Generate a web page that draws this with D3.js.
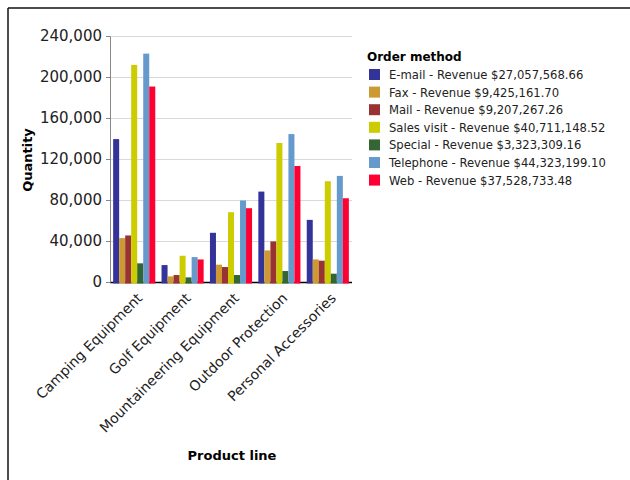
<!DOCTYPE html>
<html>
<head>
<meta charset="utf-8">
<script src="https://cdn.jsdelivr.net/npm/d3@7"></script>
<style>
  html, body { margin: 0; padding: 0; background: #fff; }
  svg { display: block; font-family: "DejaVu Sans", Verdana, sans-serif; }
</style>
</head>
<body>
<svg id="chart" width="630" height="480"></svg>
<script>
// Product lines along the x axis
const categories = ["Camping Equipment", "Golf Equipment", "Mountaineering Equipment", "Outdoor Protection", "Personal Accessories"];

// Order methods (series) and their legend labels
const methods = ["E-mail", "Fax", "Mail", "Sales visit", "Special", "Telephone", "Web"];
const revenues = ["$27,057,568.66", "$9,425,161.70", "$9,207,267.26", "$40,711,148.52", "$3,323,309.16", "$44,323,199.10", "$37,528,733.48"];
const colors = ["#333399", "#cc9933", "#993333", "#cccc00", "#336633", "#6699cc", "#ff0033"];

// Quantity per method, one value per product line
const emailQty     = [139400, 16500, 48000, 88200, 60600];
const faxQty       = [42800, 5500, 16900, 30800, 22000];
const mailQty      = [45400, 6800, 14600, 39600, 20800];
const salesQty     = [211800, 25600, 68100, 135600, 98300];
const specialQty   = [18200, 4500, 6800, 10700, 8100];
const telephoneQty = [222800, 24300, 79500, 144300, 103500];
const webQty       = [190700, 22000, 72000, 113200, 81700];
const seriesValues = [emailQty, faxQty, mailQty, salesQty, specialQty, telephoneQty, webQty];

// Y axis ticks
const yTicks = [0, 40000, 80000, 120000, 160000, 200000, 240000];

const svg = d3.select("#chart");

// Frame lines along the top and left edges
svg.append("line").attr("x1", 8).attr("y1", 8).attr("x2", 630).attr("y2", 8)
  .attr("stroke", "#111").attr("stroke-width", 1.5);
svg.append("line").attr("x1", 8).attr("y1", 8).attr("x2", 8).attr("y2", 480)
  .attr("stroke", "#111").attr("stroke-width", 1.5);

const plot = { left: 110, right: 352, top: 36, bottom: 282 };

const x = d3.scaleBand().domain(categories)
  .range([plot.left, plot.right]).paddingInner(0.13).paddingOuter(0.065);
const xInner = d3.scaleBand().domain(methods).range([0, x.bandwidth()]);
const y = d3.scaleLinear().domain([0, 240000]).range([plot.bottom, plot.top]);

// Gridlines
svg.append("g").selectAll("line").data(yTicks.filter(d => d > 0)).join("line")
  .attr("x1", plot.left).attr("x2", plot.right)
  .attr("y1", d => Math.round(y(d)) + 0.5).attr("y2", d => Math.round(y(d)) + 0.5)
  .attr("stroke", "#d9d9d9").attr("stroke-width", 1);

// X axis (drawn beneath the bars, which overlap it slightly)
const xAxis = svg.append("g").attr("transform", `translate(0,${plot.bottom})`)
  .call(d3.axisBottom(x).tickSize(0).tickPadding(0));
xAxis.select(".domain").attr("d", `M${plot.left},0.5H${plot.right}`).attr("stroke", "#000").attr("stroke-width", 1.5);
xAxis.selectAll(".tick text")
  .attr("font-size", 14).attr("fill", "#222")
  .attr("font-family", "DejaVu Sans, Verdana, sans-serif")
  .attr("text-anchor", "end")
  .attr("dy", null)
  .attr("transform", "translate(9,17) rotate(-45)");

// Bars
const groups = svg.append("g").selectAll("g").data(categories).join("g")
  .attr("transform", d => `translate(${x(d)},0)`);
groups.selectAll("rect")
  .data((c, ci) => methods.map((m, mi) => ({ m, mi, v: seriesValues[mi][ci] })))
  .join("rect")
  .attr("x", d => xInner(d.m))
  .attr("width", xInner.bandwidth())
  .attr("y", d => y(d.v))
  .attr("height", d => y(0) - y(d.v) + 1.5)
  .attr("fill", d => colors[d.mi]);

// Y axis
const yAxis = svg.append("g").attr("transform", `translate(${plot.left},0)`)
  .call(d3.axisLeft(y).tickValues(yTicks).tickFormat(d3.format(",")).tickSize(4).tickPadding(4));
yAxis.select(".domain").attr("stroke", "#888");
yAxis.selectAll(".tick line").attr("stroke", "#888");
yAxis.selectAll(".tick text").attr("font-size", 15).attr("fill", "#222")
  .attr("font-family", "DejaVu Sans, Verdana, sans-serif");

// Axis titles
svg.append("text").attr("x", 232).attr("y", 460).attr("text-anchor", "middle")
  .attr("font-size", 13).attr("font-weight", "bold").attr("fill", "#000").text("Product line");
svg.append("text").attr("transform", "translate(32,160) rotate(-90)").attr("text-anchor", "middle")
  .attr("font-size", 13).attr("font-weight", "bold").attr("fill", "#000").text("Quantity");

// Legend
const legend = svg.append("g").attr("transform", "translate(367,0)");
legend.append("text").attr("x", 0).attr("y", 61).attr("font-size", 12).attr("font-weight", "bold")
  .attr("fill", "#000").text("Order method");
const rows = legend.selectAll("g.row").data(methods).join("g").attr("class", "row")
  .attr("transform", (d, i) => `translate(0,${69 + i * 17.6})`);
rows.append("rect").attr("x", 2).attr("y", 0).attr("width", 11).attr("height", 11)
  .attr("fill", (d, i) => colors[i]);
rows.append("text").attr("x", 22).attr("y", 10).attr("font-size", 11.6).attr("fill", "#222")
  .text((d, i) => `${d} - Revenue ${revenues[i]}`);
</script>
</body>
</html>
